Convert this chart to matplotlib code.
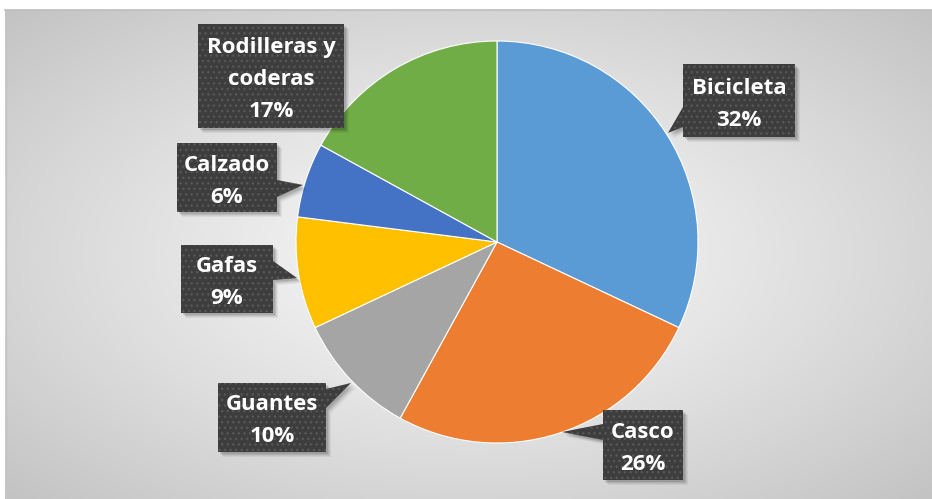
import numpy as np
import matplotlib
matplotlib.use("Agg")
import matplotlib.pyplot as plt
from matplotlib.patches import Polygon

# ---- data ----
categories = ["Bicicleta", "Casco", "Guantes", "Gafas", "Calzado", "Rodilleras y\ncoderas"]
values = [32, 26, 10, 9, 6, 17]
colors = ["#5B9BD5", "#ED7D31", "#A5A5A5", "#FFC000", "#4472C4", "#70AD47"]

W, H = 932, 499
fig = plt.figure(figsize=(W / 100, H / 100), dpi=100)
fig.patch.set_facecolor("white")
ax = fig.add_axes([0, 0, 1, 1])
ax.set_xlim(0, W)
ax.set_ylim(0, H)
ax.axis("off")

def Y(y):
    return H - y

# ---- background radial gradient (chart area) ----
x0, y0 = 5, 10
gx = np.linspace(x0, W, 400)
gy = np.linspace(y0, H, 220)
XX, YY = np.meshgrid(gx, gy)
cx, cy = (x0 + W) / 2, (y0 + H) / 2
d = np.sqrt(((XX - cx) / ((W - x0) / 2)) ** 2 + ((YY - cy) / ((H - y0) / 2)) ** 2) / np.sqrt(2)
d = np.clip(d, 0, 1)
val = (248 - 53 * d ** 1.2) / 255.0
img = np.dstack([val, val, val])
ax.imshow(img, extent=[x0, W, Y(H), Y(y0)], origin="upper", aspect="auto", zorder=0,
          interpolation="bilinear")
ax.plot([x0, W], [Y(y0) + 0.5, Y(y0) + 0.5], color="#bdbdbd", lw=1.2, zorder=1)
ax.plot([x0 + 0.5, x0 + 0.5], [Y(H), Y(y0)], color="#c4c4c4", lw=1.0, zorder=1)

# ---- pie ----
pcx, pcy, R = 497, 242, 201
wedges, _ = ax.pie(values, colors=colors, startangle=90, counterclock=False,
                   center=(pcx, Y(pcy)), radius=R,
                   wedgeprops=dict(edgecolor="white", linewidth=0.8))
for w in wedges:
    w.set_zorder(2)
ax.set_xlim(0, W)
ax.set_ylim(0, H)
ax.set_aspect("auto")
ax.axis("off")

# ---- callout label boxes (screen px: left, top, right, bottom), pointer (side, base1, base2, tip) ----
boxes = [
    ((683, 64, 795, 137), ("L", 107, 127, (668, 133))),
    ((603, 410, 683, 480), ("L", 424, 440, (562, 432))),
    ((218, 383, 326, 452), ("R", 389, 408, (351, 383))),
    ((181, 245, 273, 313), ("R", 261, 280, (297, 278))),
    ((177, 143, 277, 212), ("R", 180, 197, (303, 185))),
    ((198, 24, 344, 128), None),
]

def callout_poly(box, ptr):
    l, t, r, b = box
    pts = [(l, t), (r, t)]
    if ptr is not None and ptr[0] == "R":
        _, b1, b2, tip = ptr
        pts += [(r, b1), tip, (r, b2)]
    pts += [(r, b), (l, b)]
    if ptr is not None and ptr[0] == "L":
        _, b1, b2, tip = ptr
        pts += [(l, b2), tip, (l, b1)]
    return [(px, Y(py)) for px, py in pts]

FONT = "Open Sans"
for cat, v, (box, ptr) in zip(categories, values, boxes):
    poly = callout_poly(box, ptr)
    # soft shadow
    for k, a in [(5, 0.05), (4, 0.06), (3, 0.08), (2, 0.10)]:
        sp = [(px + k, py - k) for px, py in poly]
        ax.add_patch(Polygon(sp, closed=True, facecolor="black", edgecolor="none",
                             alpha=a, zorder=3))
    ax.add_patch(Polygon(poly, closed=True, facecolor="#3d3d3d", edgecolor="none", zorder=4))
    ax.add_patch(Polygon(poly, closed=True, facecolor="none", edgecolor="#575757",
                         hatch="...", linewidth=0, zorder=5))
    lines = cat.split("\n") + [f"{v}%"]
    l, t, r, b = box
    xc = (l + r) / 2
    yc = (t + b) / 2 + 1
    step = 32
    n = len(lines)
    for i, s in enumerate(lines):
        yy = yc + (i - (n - 1) / 2) * step
        ax.text(xc, Y(yy), s, ha="center", va="center_baseline", color="white",
                fontsize=16, fontweight="bold", family=FONT, zorder=6)

fig.savefig("out.png", dpi=100, facecolor="white")
